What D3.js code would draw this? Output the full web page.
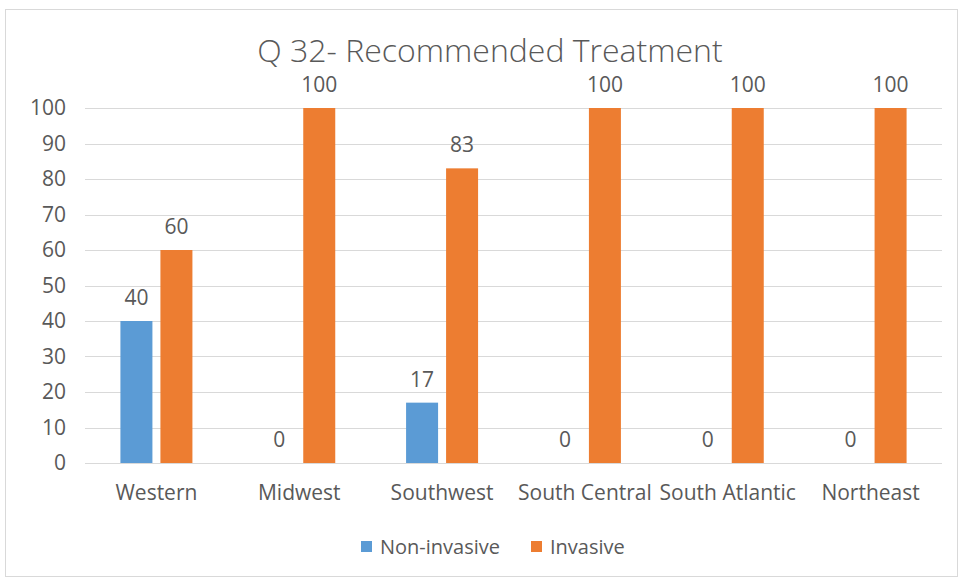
<!DOCTYPE html>
<html><head><meta charset="utf-8">
<script src="https://cdn.jsdelivr.net/npm/d3@7"></script>
<style>body{margin:0;background:#fff;} text{font-family:"Open Sans","Liberation Sans",sans-serif;fill:#595959;}</style>
</head><body><svg id="c" width="958" height="579"></svg>
<script>
const categories = ["Western","Midwest","Southwest","South Central","South Atlantic","Northeast"];
const nonInvasive = [40,0,17,0,0,0];
const invasive = [60,100,83,100,100,100];
const yTicks = [0,10,20,30,40,50,60,70,80,90,100];
const seriesNames = ["Non-invasive","Invasive"];
const colors = ["#5b9bd5","#ed7d31"];

const svg = d3.select("#c");
svg.append("rect").attr("x",5.5).attr("y",9.5).attr("width",952).attr("height",567).attr("fill","#fff").attr("stroke","#d9d9d9");

const m = {l:85, r:942, t:108, b:463};
const x = d3.scaleBand().domain(categories).range([m.l,m.r]);
const y = d3.scaleLinear().domain([0,100]).range([m.b,m.t]);

svg.append("text").attr("x",490).attr("y",62).attr("text-anchor","middle").style("font-size","32px").style("font-weight","300").text("Q 32- Recommended  Treatment");

svg.append("g").selectAll("line").data(yTicks).join("line")
  .attr("x1",m.l).attr("x2",m.r).attr("y1",d=>Math.round(y(d))+0.5).attr("y2",d=>Math.round(y(d))+0.5)
  .attr("stroke","#d9d9d9").attr("stroke-width",1);

const yAxis = d3.axisLeft(y).tickValues(yTicks).tickSize(0).tickPadding(19);
const ga = svg.append("g").attr("transform",`translate(${m.l},0)`).call(yAxis);
ga.select(".domain").remove();
ga.selectAll("text").style("font-size","21px").style("fill","#595959").style("font-family","'Open Sans',sans-serif");

const xAxis = d3.axisBottom(x).tickSize(0).tickPadding(22);
const gx = svg.append("g").attr("transform",`translate(0,${m.b})`).call(xAxis);
gx.select(".domain").remove();
gx.selectAll("text").style("font-size","21px").style("fill","#595959").style("font-family","'Open Sans',sans-serif");

const barW = 32, gap = 8;
const series = [nonInvasive, invasive];
series.forEach((vals,si)=>{
  const off = si===0 ? -gap/2-barW : gap/2;
  const cx = c => x(c)+x.bandwidth()/2+off;
  svg.append("g").selectAll("rect").data(categories).join("rect")
    .attr("x",c=>cx(c)).attr("width",barW)
    .attr("y",(c,i)=>y(vals[i])).attr("height",(c,i)=>y(0)-y(vals[i]))
    .attr("fill",colors[si]);
  svg.append("g").selectAll("text").data(categories).join("text")
    .attr("x",c=>cx(c)+barW/2).attr("y",(c,i)=>y(vals[i])-16)
    .attr("text-anchor","middle").style("font-size","21px")
    .text((c,i)=>vals[i]);
});

const leg = svg.append("g");
const legX = [361,531];
seriesNames.forEach((n,i)=>{
  leg.append("rect").attr("x",legX[i]).attr("y",541).attr("width",11).attr("height",11).attr("fill",colors[i]);
  leg.append("text").attr("x",legX[i]+19).attr("y",554).style("font-size","20px").text(n);
});
</script></body></html>
